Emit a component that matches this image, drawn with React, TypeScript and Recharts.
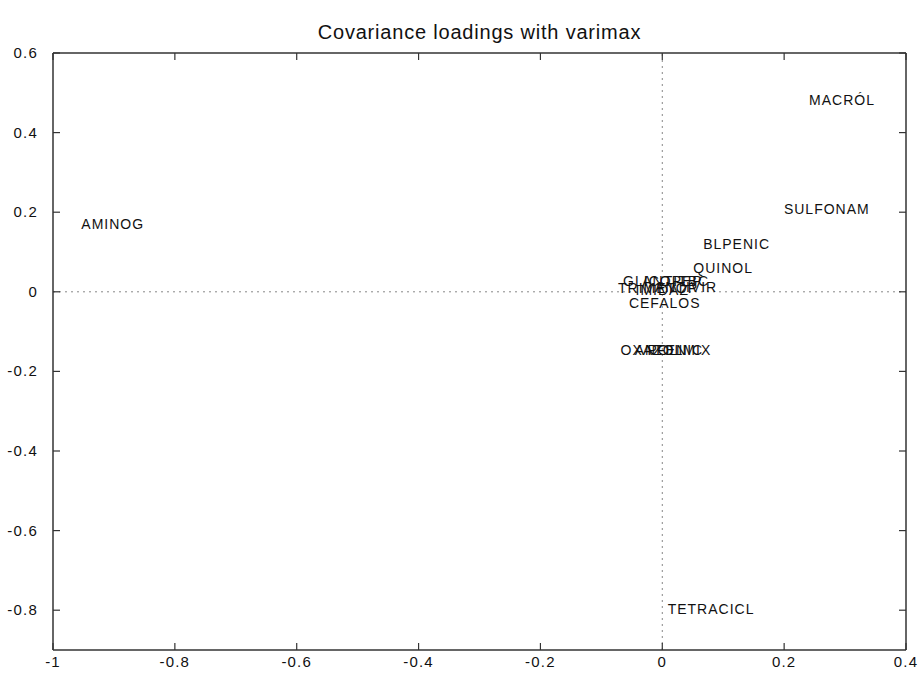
import React from "react";
import {
  ScatterChart,
  Scatter,
  XAxis,
  YAxis,
  ReferenceLine,
} from "recharts";

const labelNames = [
  "AMINOG",
  "MACRÓL",
  "SULFONAM",
  "BLPENIC",
  "QUINOL",
  "TETRACICL",
  "CEFALOS",
  "GLICOPEP",
  "ANTITBC",
  "TRIMETOP",
  "IMIDAZ",
  "ANTIVIR",
  "OXAZOL",
  "ANFENIC",
  "POLIMIX",
];
const loadingX = [
  -0.902, 0.295, 0.27, 0.122, 0.1, 0.08, 0.004, 0.001, 0.022, -0.007, 0.0,
  0.039, -0.017, 0.011, 0.028,
];
const loadingY = [
  0.171, 0.482, 0.209, 0.121, 0.06, -0.797, -0.027, 0.027, 0.027, 0.01, 0.005,
  0.012, -0.146, -0.146, -0.146,
];
const xTicks = [-1, -0.8, -0.6, -0.4, -0.2, 0, 0.2, 0.4];
const yTicks = [-0.8, -0.6, -0.4, -0.2, 0, 0.2, 0.4, 0.6];
const xDomain = [-1, 0.4];
const yDomain = [-0.9, 0.6];
const title = "Covariance loadings with varimax";

const data = labelNames.map((name, i) => ({
  name,
  x: loadingX[i],
  y: loadingY[i],
}));

const FONT = "'Liberation Sans', Arial, Helvetica, sans-serif";
const AXIS = "#333333";
const TICK_LEN = 7;

const fmt = (v: number) => String(Math.round(v * 10) / 10);

const BottomTick = (props: any) => {
  const { x, y, payload } = props;
  return (
    <g>
      <line x1={x} y1={y} x2={x} y2={y - TICK_LEN} stroke={AXIS} strokeWidth={1.2} />
      <text
        x={x}
        y={y + 17}
        textAnchor="middle"
        fontFamily={FONT}
        fontSize={15}
        letterSpacing={1.2}
        fill="#111"
      >
        {fmt(payload.value)}
      </text>
    </g>
  );
};

const TopTick = (props: any) => {
  const { x, y } = props;
  return <line x1={x} y1={y} x2={x} y2={y + TICK_LEN} stroke={AXIS} strokeWidth={1.2} />;
};

const LeftTick = (props: any) => {
  const { x, y, payload } = props;
  return (
    <g>
      <line x1={x} y1={y} x2={x + TICK_LEN} y2={y} stroke={AXIS} strokeWidth={1.2} />
      <text
        x={x - 15}
        y={y + 5}
        textAnchor="end"
        fontFamily={FONT}
        fontSize={15}
        letterSpacing={1.2}
        fill="#111"
      >
        {fmt(payload.value)}
      </text>
    </g>
  );
};

const RightTick = (props: any) => {
  const { x, y } = props;
  return <line x1={x} y1={y} x2={x - TICK_LEN} y2={y} stroke={AXIS} strokeWidth={1.2} />;
};

const LabelShape = (props: any) => {
  const { cx, cy, payload } = props;
  return (
    <text
      x={cx}
      y={cy}
      textAnchor="middle"
      dominantBaseline="central"
      fontFamily={FONT}
      fontSize={14}
      letterSpacing={1}
      fill="#111"
    >
      {payload.name}
    </text>
  );
};

export default function App() {
  return (
    <div
      style={{
        position: "absolute",
        left: 0,
        top: 0,
        width: 923,
        height: 678,
        background: "#ffffff",
      }}
    >
      <div
        style={{
          position: "absolute",
          left: 53,
          width: 853,
          top: 20,
          textAlign: "center",
          fontFamily: FONT,
          fontSize: 20,
          letterSpacing: 0.8,
          lineHeight: "24px",
          color: "#111",
        }}
      >
        {title}
      </div>
      <ScatterChart
        width={923}
        height={678}
        margin={{ top: 52, right: 16, bottom: 0, left: 8 }}
      >
        <XAxis
          xAxisId="b"
          type="number"
          dataKey="x"
          orientation="bottom"
          domain={xDomain}
          ticks={xTicks}
          allowDataOverflow
          height={28}
          tickSize={0}
          tickMargin={0}
          tick={BottomTick}
          axisLine={{ stroke: AXIS, strokeWidth: 1.5 }}
          tickLine={false}
          interval={0}
        />
        <XAxis
          xAxisId="t"
          type="number"
          dataKey="x"
          orientation="top"
          domain={xDomain}
          ticks={xTicks}
          allowDataOverflow
          height={1}
          tickSize={0}
          tickMargin={0}
          tick={TopTick}
          axisLine={{ stroke: AXIS, strokeWidth: 1.5 }}
          tickLine={false}
          interval={0}
        />
        <YAxis
          yAxisId="l"
          type="number"
          dataKey="y"
          orientation="left"
          domain={yDomain}
          ticks={yTicks}
          allowDataOverflow
          width={45}
          tickSize={0}
          tickMargin={0}
          tick={LeftTick}
          axisLine={{ stroke: AXIS, strokeWidth: 1.5 }}
          tickLine={false}
          interval={0}
        />
        <YAxis
          yAxisId="r"
          type="number"
          dataKey="y"
          orientation="right"
          domain={yDomain}
          ticks={yTicks}
          allowDataOverflow
          width={1}
          tickSize={0}
          tickMargin={0}
          tick={RightTick}
          axisLine={{ stroke: AXIS, strokeWidth: 1.5 }}
          tickLine={false}
          interval={0}
        />
        <ReferenceLine
          xAxisId="b"
          yAxisId="l"
          x={0}
          stroke="#888"
          strokeDasharray="2 4"
          strokeWidth={1}
        />
        <ReferenceLine
          xAxisId="b"
          yAxisId="l"
          y={0}
          stroke="#888"
          strokeDasharray="2 4"
          strokeWidth={1}
        />
        <Scatter
          xAxisId="b"
          yAxisId="l"
          data={data}
          shape={LabelShape}
          isAnimationActive={false}
        />
      </ScatterChart>
    </div>
  );
}
